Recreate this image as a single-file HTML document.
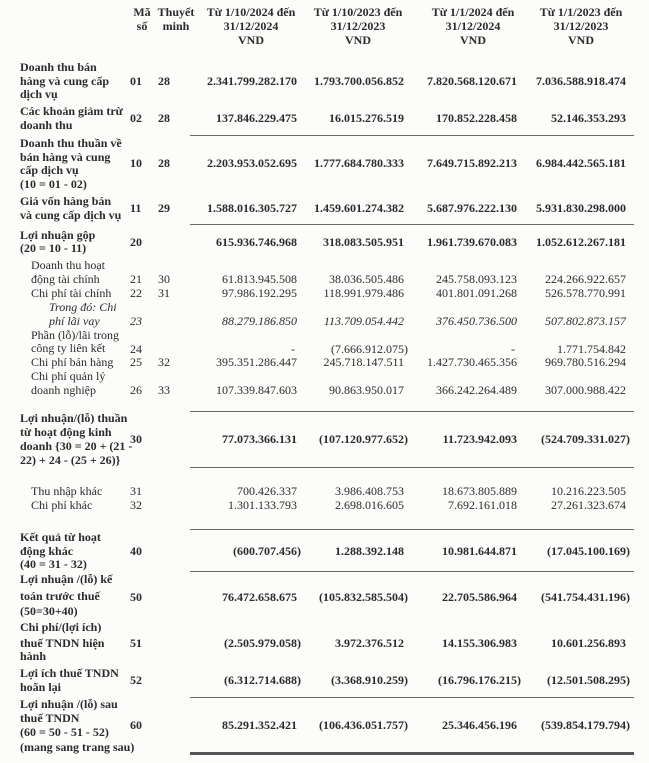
<!DOCTYPE html>
<html><head><meta charset="utf-8">
<style>
html,body{margin:0;padding:0;background:#fcfcfb;}
#page{position:relative;width:649px;height:763px;overflow:hidden;background:#fcfcfb;color:#2b2b2b;font-family:"Liberation Serif",serif;}
.t{position:absolute;font-size:12px;line-height:14px;white-space:nowrap;}
.b{font-weight:bold;}
.i{font-style:italic;}
.c{text-align:center;}
.r{text-align:right;}
.hl{position:absolute;height:1px;background:#6a6a6a;left:190px;width:444px;}
</style></head>
<body>
<div id="page"></div>
<script>
var page=document.getElementById('page');
function T(txt,x,y,cls,w,name){
  var d=document.createElement('div');
  d.className='t '+(cls||'');
  d.textContent=txt;
  d.style.top=(y-7)+'px';
  if(w){d.style.left=x+'px';d.style.width=w+'px';}else{d.style.left=x+'px';}
  
  
  page.appendChild(d);return d;
}
function N(txt,right,y,cls,name){
  var d=document.createElement('div');
  d.className='t r '+(cls||'');
  var neg=txt.charAt(txt.length-1)===')';
  d.textContent=neg?txt.slice(0,-1):txt;
  if(neg){var s=document.createElement('span');s.textContent=')';s.style.marginRight='-4px';d.appendChild(s);}
  if(txt==='-'){right-=2;}
  d.style.top=(y-7)+'px';
  d.style.right=(649-right)+'px';
  
  
  page.appendChild(d);
}
// headers
T('Mã',130,12,'b c',24,'header-ma-so');T('số',130,26,'b c',24,'header-ma-so');
T('Thuyết',156,12,'b c',40,'header-thuyet-minh');T('minh',156,26,'b c',40,'header-thuyet-minh');
var hc=[251,358,473,581];
var h1=['Từ 1/10/2024 đến','Từ 1/10/2023 đến','Từ 1/1/2024 đến','Từ 1/1/2023 đến'];
var h2=['31/12/2024','31/12/2023','31/12/2024','31/12/2023'];
for(var k=0;k<4;k++){
  T(h1[k],hc[k]-70,12,'b c',140,'column-header');
  T(h2[k],hc[k]-70,26,'b c',140,'column-header');
  T('VND',hc[k]-70,40,'b c',140,'column-header');
}
var colR=[297,404,517,626];
var rows=[
 {l:['Doanh thu bán','hàng và cung cấp','dịch vụ'],y:[67,81,94],v:81,code:'01',note:'28',s:'b',ind:20,vals:['2.341.799.282.170','1.793.700.056.852','7.820.568.120.671','7.036.588.918.474']},
 {l:['Các khoản giảm trừ','doanh thu'],y:[111,125],v:118,code:'02',note:'28',s:'b',ind:20,vals:['137.846.229.475','16.015.276.519','170.852.228.458','52.146.353.293']},
 {l:['Doanh thu thuần về','bán hàng và cung','cấp dịch vụ','(10 = 01 - 02)'],y:[143,157,170,184],v:163,code:'10',note:'28',s:'b',ind:20,vals:['2.203.953.052.695','1.777.684.780.333','7.649.715.892.213','6.984.442.565.181']},
 {l:['Giá vốn hàng bán','và cung cấp dịch vụ'],y:[201,215],v:208,code:'11',note:'29',s:'b',ind:20,vals:['1.588.016.305.727','1.459.601.274.382','5.687.976.222.130','5.931.830.298.000']},
 {l:['Lợi nhuận gộp','(20 = 10 - 11)'],y:[235,248],v:242,code:'20',note:'',s:'b',ind:20,vals:['615.936.746.968','318.083.505.951','1.961.739.670.083','1.052.612.267.181']},
 {l:['Doanh thu hoạt','động tài chính'],y:[265,279],v:279,code:'21',note:'30',s:'',ind:31,vals:['61.813.945.508','38.036.505.486','245.758.093.123','224.266.922.657']},
 {l:['Chi phí tài chính'],y:[293],v:293,code:'22',note:'31',s:'',ind:31,vals:['97.986.192.295','118.991.979.486','401.801.091.268','526.578.770.991']},
 {l:['Trong đó: Chi','phí lãi vay'],y:[307,321],v:321,code:'23',note:'',s:'i',ind:49,vals:['88.279.186.850','113.709.054.442','376.450.736.500','507.802.873.157']},
 {l:['Phần (lỗ)/lãi trong','công ty liên kết'],y:[335,348],v:349,code:'24',note:'',s:'',ind:31,vals:['-','(7.666.912.075)','-','1.771.754.842']},
 {l:['Chi phí bán hàng'],y:[362],v:362,code:'25',note:'32',s:'',ind:31,vals:['395.351.286.447','245.718.147.511','1.427.730.465.356','969.780.516.294']},
 {l:['Chi phí quản lý','doanh nghiệp'],y:[376,390],v:390,code:'26',note:'33',s:'',ind:31,vals:['107.339.847.603','90.863.950.017','366.242.264.489','307.000.988.422']},
 {l:['Lợi nhuận/(lỗ) thuần','từ hoạt động kinh','doanh {30 = 20 + (21 -','22) + 24 - (25 + 26)}'],y:[418,432,446,460],v:439,code:'30',note:'',s:'b',ind:20,vals:['77.073.366.131','(107.120.977.652)','11.723.942.093','(524.709.331.027)']},
 {l:['Thu nhập khác'],y:[491],v:491,code:'31',note:'',s:'',ind:31,vals:['700.426.337','3.986.408.753','18.673.805.889','10.216.223.505']},
 {l:['Chi phí khác'],y:[505],v:505,code:'32',note:'',s:'',ind:31,vals:['1.301.133.793','2.698.016.605','7.692.161.018','27.261.323.674']},
 {l:['Kết quả từ hoạt','động khác','(40 = 31 - 32)'],y:[537,551,564],v:551,code:'40',note:'',s:'b',ind:20,vals:['(600.707.456)','1.288.392.148','10.981.644.871','(17.045.100.169)']},
 {l:['Lợi nhuận /(lỗ) kế','toán trước thuế','(50=30+40)'],y:[579,596,611],v:597,code:'50',note:'',s:'b',ind:20,vals:['76.472.658.675','(105.832.585.504)','22.705.586.964','(541.754.431.196)']},
 {l:['Chi phí/(lợi ích)','thuế TNDN hiện','hành'],y:[627,643,656],v:643,code:'51',note:'',s:'b',ind:20,vals:['(2.505.979.058)','3.972.376.512','14.155.306.983','10.601.256.893']},
 {l:['Lợi ích thuế TNDN','hoãn lại'],y:[673,687],v:680,code:'52',note:'',s:'b',ind:20,vals:['(6.312.714.688)','(3.368.910.259)','(16.796.176.215)','(12.501.508.295)']},
 {l:['Lợi nhuận /(lỗ) sau','thuế TNDN','(60 = 50 - 51 - 52)','(mang sang trang sau)'],y:[704,718,732,747],v:725,code:'60',note:'',s:'b',ind:20,vals:['85.291.352.421','(106.436.051.757)','25.346.456.196','(539.854.179.794)']}
];
rows.forEach(function(r){
  for(var j=0;j<r.l.length;j++){T(r.l[j],r.ind,r.y[j],r.s,0,'row-label-'+r.code);}
  T(r.code,130,r.v,r.s,24,'row-code-'+r.code);
  if(r.note){T(r.note,158,r.v,r.s,28,'row-note-'+r.code);}
  for(var c=0;c<4;c++){N(r.vals[c],colR[c],r.v,r.s,'value-'+r.code+'-col'+(c+1));}
});
var lines=[135,224,411,467,529,571,697];
lines.forEach(function(y){
  var d=document.createElement('div');
  d.className='hl';
  d.style.top=y+'px';
  
  
  page.appendChild(d);
});
var bl=document.createElement('div');
bl.className='hl';
bl.style.top='752px';bl.style.height='3px';bl.style.background='#555';


page.appendChild(bl);
</script>
</body></html>
